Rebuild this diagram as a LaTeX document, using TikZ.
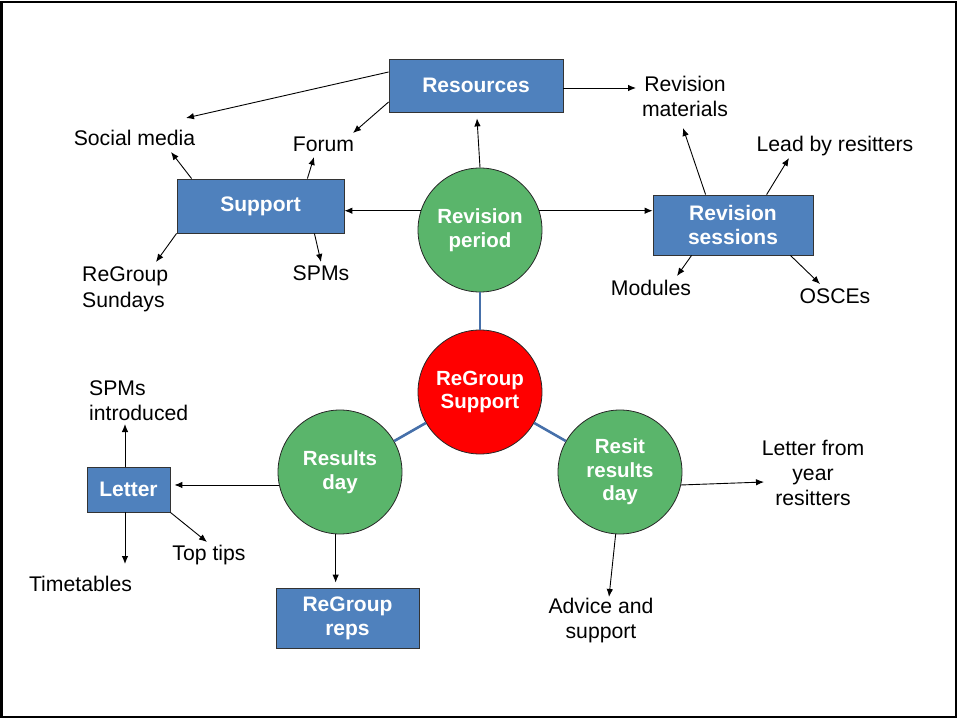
\documentclass[tikz,border=0pt]{standalone}
\usepackage{fontspec}
\setmainfont{Liberation Sans}
\usetikzlibrary{arrows.meta}

\definecolor{boxblue}{RGB}{79,129,189}
\definecolor{bubgreen}{RGB}{90,181,107}
\definecolor{linkblue}{RGB}{70,112,170}

\begin{document}
\begin{tikzpicture}[x=1pt,y=-1pt,
  box/.style={draw=black!80,line width=0.8pt,fill=boxblue,text=white,inner sep=0pt,
    align=center,font=\bfseries\fontsize{21}{24}\selectfont},
  bubble/.style={circle,draw=black!85,line width=0.8pt,minimum size=124pt,inner sep=0pt,
    text=white,align=center,font=\bfseries\fontsize{20.5}{23.5}\selectfont},
  txt/.style={anchor=base,inner sep=0pt,align=center,font=\fontsize{21.2}{25}\selectfont},
  arr/.style={-{Latex[length=8pt,width=6.5pt]},line width=0.9pt},
  link/.style={draw=linkblue,line width=2.6pt}]
\useasboundingbox (0,0) rectangle (959,722);
\draw[line width=2.5pt] (1.5,2) rectangle (956,717);

% hubs
\node[bubble,fill=red] at (480,392) (rg) {ReGroup\\Support};
\node[bubble,fill=bubgreen] at (480,230) (rp) {Revision\\period};
\node[bubble,fill=bubgreen] at (340,472) (rd) {Results\\day};
\node[bubble,fill=bubgreen] at (620,472) (rr) {Resit\\results\\day};
\draw[link] (rg) -- (rp);
\draw[link] (rg) -- (rd);
\draw[link] (rg) -- (rr);

% boxes
\node[box,minimum width=174pt,minimum height=53pt] at (476,85.5) (res) {Resources};
\node[box,minimum width=167pt,minimum height=54pt] at (260.5,206) (sup) {Support};
\node[box,minimum width=160pt,minimum height=60pt] at (733,225) (ses) {Revision\\sessions};
\node[box,minimum width=83pt,minimum height=45pt] at (128.5,489.5) (let) {Letter};
\node[box,minimum width=143pt,minimum height=60pt] at (347.5,618) (reps) {ReGroup\\reps};

% leaves (base = last line)
\node[txt] at (134.5,146) (soc) {Social media};
\node[txt] at (323.5,152) (frm) {Forum};
\node[txt,anchor=base west,align=left] at (82,307) (sun) {ReGroup\\Sundays};
\node[txt] at (321,281) (spm) {SPMs};
\node[txt] at (685,117) (mat) {Revision\\materials};
\node[txt] at (835,152) (lead) {Lead by resitters};
\node[txt] at (651,295) (mod) {Modules};
\node[txt] at (835,303) (osc) {OSCEs};
\node[txt,anchor=base west,align=left] at (89,420) (intro) {SPMs\\introduced};
\node[txt] at (80.5,591) (tim) {Timetables};
\node[txt] at (209,560) (top) {Top tips};
\node[txt] at (813,505) (lf) {Letter from\\year\\resitters};
\node[txt] at (601,638) (adv) {Advice and\\support};

\draw[arr] ([yshift=13.5pt]res.west) -- ([shift={(51.5,-28)}]soc.base);
\draw[arr] ([yshift=-16.5pt]res.west) -- ([shift={(29.5,-19)}]frm.base);
\draw[arr] ([yshift=-2.5pt]res.east) -- ([shift={(-49,-29)}]mat.base);
\draw[arr] (rp.north) -- ([shift={(1,6)}]res.south);
\draw[arr] (rp.162) -- (rp.162 -| sup.east);
\draw[arr] (rp.18) -- (rp.18 -| ses.west);
\draw[arr] ([xshift=15pt]sup.north west) -- ([shift={(36.5,6)}]soc.base);
\draw[arr] ([xshift=-37pt]sup.north east) -- ([shift={(-9.5,5)}]frm.base);
\draw[arr] (sup.south west) -- ([shift={(74,-45)}]sun.base west);
\draw[arr] ([xshift=-30pt]sup.south east) -- ([shift={(0,-19)}]spm.base);
\draw[arr] ([xshift=53pt]ses.north west) -- ([shift={(-2,11)}]mat.base);
\draw[arr] ([xshift=114pt]ses.north west) -- ([shift={(-46,6)}]lead.base);
\draw[arr] ([xshift=39pt]ses.south west) -- ([shift={(26,-19)}]mod.base);
\draw[arr] ([xshift=-23pt]ses.south east) -- ([shift={(-15,-19)}]osc.base);
\draw[arr,shorten >=4pt] (rd.192) -- (rd.192 -| let.east);
\draw[arr,shorten >=5pt] (rd.266) -- (rd.266 |- reps.north);
\draw[arr] ([xshift=-3.5pt]let.north) -- ([shift={(36,4)}]intro.base west);
\draw[arr] ([xshift=-3.5pt]let.south) -- ([shift={(44.5,-27)}]tim.base);
\draw[arr] (let.south east) -- ([shift={(-2,-18)}]top.base);
\draw[arr] (rr.-12) -- ([shift={(-49,-23)}]lf.base);
\draw[arr] (rr.266) -- ([shift={(8,-41)}]adv.base);
\end{tikzpicture}
\end{document}
